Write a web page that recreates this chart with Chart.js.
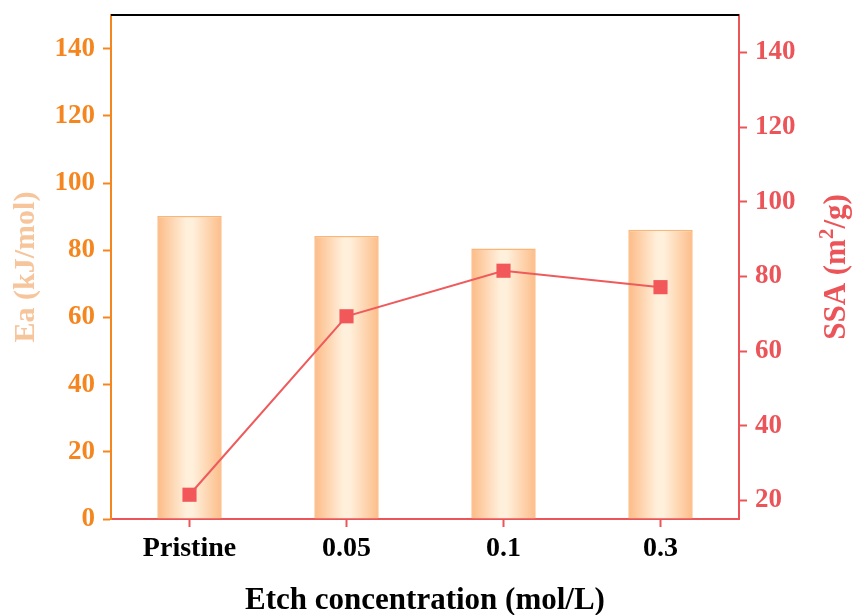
<!DOCTYPE html>
<html>
<head>
<meta charset="utf-8">
<script src="https://cdn.jsdelivr.net/npm/chart.js@4"></script>
<style>
  html, body { margin: 0; padding: 0; background: #fff; }
  #wrap { width: 852px; height: 615px; position: relative; }
</style>
</head>
<body>
<div id="wrap"><canvas id="etchChart" width="852" height="615"></canvas></div>
<script>
const categories = ["Pristine", "0.05", "0.1", "0.3"];
const eaValues = [90.2, 84.2, 80.5, 86.1];
const ssaValues = [21.5, 69.3, 81.5, 77.1];
const eaTicks = [0, 20, 40, 60, 80, 100, 120, 140];
const ssaTicks = [20, 40, 60, 80, 100, 120, 140];

const ORANGE = "#f5861f";
const ORANGE_PALE = "#f6c59c";
const RED = "#eb5458";
const SERIF = "'Liberation Serif', 'Times New Roman', serif";
const BAR_PCT = 0.41;

function barGradient(context) {
  const chart = context.chart;
  const xScale = chart.scales.x;
  if (!xScale || !chart.chartArea) return "#fdd9b5";
  const cx = xScale.getPixelForValue(context.dataIndex);
  const half = (xScale.width / categories.length) * BAR_PCT / 2;
  const g = chart.ctx.createLinearGradient(cx - half, 0, cx + half, 0);
  g.addColorStop(0, "#fcbb86");
  g.addColorStop(0.45, "#fff0dc");
  g.addColorStop(0.55, "#fff0dc");
  g.addColorStop(1, "#fcbd89");
  return g;
}

const frameLines = {
  id: "frameLines",
  afterDraw(chart) {
    const { ctx, chartArea } = chart;
    ctx.save();
    ctx.strokeStyle = "#000";
    ctx.lineWidth = 2;
    ctx.beginPath();
    ctx.moveTo(chartArea.left, chartArea.top);
    ctx.lineTo(chartArea.right, chartArea.top);
    ctx.stroke();

    // right axis title, read bottom to top, with a raised 2
    const big = "bold 31px " + SERIF;
    const small = "bold 21px " + SERIF;
    ctx.translate(845, (chartArea.top + chartArea.bottom) / 2);
    ctx.rotate(-Math.PI / 2);
    ctx.fillStyle = RED;
    ctx.textBaseline = "alphabetic";
    ctx.textAlign = "left";
    const partA = "SSA (m";
    const partB = "2";
    const partC = "/g)";
    ctx.font = big;
    const wA = ctx.measureText(partA).width;
    const wC = ctx.measureText(partC).width;
    ctx.font = small;
    const wB = ctx.measureText(partB).width;
    let x = -(wA + wB + wC) / 2;
    ctx.font = big;
    ctx.fillText(partA, x, 0);
    x += wA;
    ctx.font = small;
    ctx.fillText(partB, x, -12);
    x += wB;
    ctx.font = big;
    ctx.fillText(partC, x, 0);
    ctx.restore();
  }
};

function fixWidth(w) {
  return (axis) => {
    axis.width = w;
    axis.paddingTop = 0;
    axis.paddingBottom = 0;
  };
}

new Chart(document.getElementById("etchChart"), {
  data: {
    labels: categories,
    datasets: [
      {
        type: "line",
        label: "SSA",
        data: ssaValues,
        yAxisID: "ySsa",
        borderColor: "#ef5a5c",
        backgroundColor: "#f25759",
        borderWidth: 2,
        pointStyle: "rect",
        pointRadius: 10,
        pointBorderWidth: 0,
        tension: 0,
        order: 0,
      },
      {
        type: "bar",
        label: "Ea",
        data: eaValues,
        yAxisID: "yEa",
        backgroundColor: barGradient,
        borderColor: "#fbb577",
        borderWidth: 1.5,
        barPercentage: BAR_PCT,
        categoryPercentage: 1,
        order: 1,
      },
    ],
  },
  options: {
    responsive: false,
    animation: false,
    layout: { padding: { top: 15, right: 0, left: 0, bottom: 0 } },
    plugins: {
      legend: { display: false },
      tooltip: { enabled: false },
    },
    scales: {
      x: {
        offset: true,
        afterFit: (axis) => {
          axis.height = 96;
          axis.paddingLeft = 0;
          axis.paddingRight = 0;
        },
        grid: {
          offset: false,
          drawOnChartArea: false,
          tickLength: 8,
          tickColor: RED,
          tickWidth: 2,
        },
        border: { color: RED, width: 2 },
        ticks: {
          color: "#000",
          padding: 5,
          font: { family: SERIF, size: 28, weight: "bold" },
        },
        title: {
          display: true,
          text: "Etch concentration (mol/L)",
          color: "#000",
          padding: { top: 10, bottom: -5 },
          font: { family: SERIF, size: 31, weight: "bold" },
        },
      },
      yEa: {
        position: "left",
        min: 0,
        max: 150,
        afterFit: fixWidth(111),
        afterBuildTicks: (axis) => { axis.ticks = eaTicks.map((v) => ({ value: v })); },
        grid: {
          drawOnChartArea: false,
          tickLength: 8,
          tickColor: ORANGE,
          tickWidth: 2,
        },
        border: { color: ORANGE, width: 2 },
        ticks: {
          color: ORANGE,
          padding: 8,
          font: { family: SERIF, size: 27, weight: "bold" },
        },
        title: {
          display: true,
          text: "Ea (kJ/mol)",
          color: ORANGE_PALE,
          padding: { top: 8, bottom: 4 },
          font: { family: SERIF, size: 30, weight: "bold" },
        },
      },
      ySsa: {
        position: "right",
        min: 15,
        max: 150,
        afterFit: fixWidth(113),
        afterBuildTicks: (axis) => { axis.ticks = ssaTicks.map((v) => ({ value: v })); },
        grid: {
          drawOnChartArea: false,
          tickLength: 8,
          tickColor: RED,
          tickWidth: 2,
        },
        border: { color: RED, width: 2 },
        ticks: {
          color: RED,
          padding: 8,
          font: { family: SERIF, size: 27, weight: "bold" },
        },
      },
    },
  },
  plugins: [frameLines],
});
</script>
</body>
</html>
